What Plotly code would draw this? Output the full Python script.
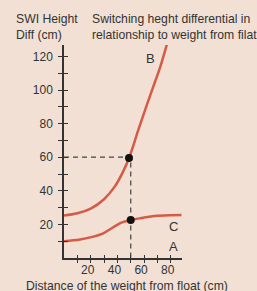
import plotly.graph_objects as go

# Data
b_x = [0, 10, 20, 30, 38, 44, 48.7, 56, 62, 68, 72, 77]
b_y = [25.3, 26.6, 29.4, 35, 42.5, 51, 59.5, 77, 91, 104.5, 113.5, 127]
c_x = [0, 12, 22, 29.4, 36.9, 43, 50, 56.6, 68, 80, 88]
c_y = [10, 11, 12.7, 14.7, 18.3, 21, 22.6, 23.6, 25, 25.5, 25.6]
dot_x = [48.7, 50]
dot_y = [59.5, 22.6]
ref_x = 50
ref_y = 60
x_ticks = [10, 20, 30, 40, 50, 60, 70, 80]
x_labels = ["", "20", "", "40", "", "60", "", "80"]
y_ticks = [10, 20, 30, 40, 50, 60, 70, 80, 90, 100, 110, 120]
y_labels = ["", "20", "", "40", "", "60", "", "80", "", "100", "", "120"]

W, H = 257, 291
L, R, T, B = 64, 75, 45, 33
X_RANGE = [0, 88.4]
Y_RANGE = [0, 126.8]

def px(xp):
    return (xp - L) / (W - L - R)

def py(yp):
    return (H - B - yp) / (H - T - B)

FONT = "Liberation Sans, Arial, sans-serif"
TXT = "#333333"
RED = "#D65A45"
BG = "#F1E0D3"

fig = go.Figure()
fig.add_trace(go.Scatter(x=c_x, y=c_y, mode="lines", line=dict(color=RED, width=2.5, shape="spline", smoothing=1),
                         hoverinfo="skip", showlegend=False))
fig.add_trace(go.Scatter(x=b_x, y=b_y, mode="lines", line=dict(color=RED, width=2.5, shape="spline", smoothing=1),
                         hoverinfo="skip", showlegend=False))
# reference dashed lines
fig.add_trace(go.Scatter(x=[0, ref_x, ref_x], y=[ref_y, ref_y, 0], mode="lines",
                         line=dict(color="#444444", width=1.2, dash="5px,4px"), hoverinfo="skip", showlegend=False))
fig.add_trace(go.Scatter(x=dot_x, y=dot_y, mode="markers", marker=dict(color="#111111", size=8),
                         hoverinfo="skip", showlegend=False))

axis_common = dict(showgrid=False, zeroline=False, linecolor="#333333", linewidth=1.5,
                   tickcolor="#333333", tickwidth=1.2, tickfont=dict(family=FONT, size=12, color=TXT))

fig.update_layout(
    width=W, height=H,
    margin=dict(l=L, r=R, t=T, b=B),
    paper_bgcolor=BG, plot_bgcolor=BG,
    xaxis=dict(range=X_RANGE, tickvals=x_ticks, ticktext=x_labels, ticks="outside", ticklen=3,
               showline=True, ticklabelshift=-3, ticklabelstandoff=-3, **axis_common),
    yaxis=dict(range=Y_RANGE, tickvals=y_ticks, ticktext=y_labels, ticks="outside", ticklen=4,
               showline=True, ticklabelstandoff=3, **axis_common),
    xaxis2=dict(range=X_RANGE, overlaying="x", anchor="y", side="bottom", tickvals=x_ticks,
                showticklabels=False, ticks="inside", ticklen=3, showline=False, showgrid=False,
                zeroline=False, tickcolor="#333333", tickwidth=1.2),
    yaxis2=dict(range=Y_RANGE, overlaying="y", anchor="x", side="left", tickvals=y_ticks,
                showticklabels=False, ticks="inside", ticklen=4, showline=False, showgrid=False,
                zeroline=False, tickcolor="#333333", tickwidth=1.2),
    showlegend=False,
)
# invisible trace to activate secondary axes
fig.add_trace(go.Scatter(x=[None], y=[None], xaxis="x2", yaxis="y2", showlegend=False, hoverinfo="skip"))

TS = 12.2
ann = [
    dict(text="SWI Height<br>Diff (cm)", x=px(14), y=py(10), xanchor="left", yanchor="top", align="left"),
    dict(text="Switching heght differential in<br>relationship to weight from filat", x=px(90), y=py(10),
         xanchor="left", yanchor="top", align="left"),
    dict(text="Distance of the weight from float (cm)", x=px(127), y=py(277), xanchor="center", yanchor="top",
         align="center"),
]
for a in ann:
    fig.add_annotation(text=a["text"], x=a["x"], y=a["y"], xref="paper", yref="paper", xanchor=a["xanchor"],
                       yanchor=a["yanchor"], align=a["align"], showarrow=False,
                       font=dict(family=FONT, size=TS, color=TXT))

labels = [("B", 64.7, 119), ("C", 81.9, 18.6), ("A", 81.9, 7.1)]
for t, lx, ly in labels:
    fig.add_annotation(text=t, x=lx, y=ly, xref="x", yref="y", showarrow=False,
                       font=dict(family=FONT, size=13, color=TXT))

fig.write_html("out.html", config={"displayModeBar": False},
               post_script="document.body.style.margin='0';document.body.style.padding='0';"
                           "document.documentElement.style.overflow='hidden';")
